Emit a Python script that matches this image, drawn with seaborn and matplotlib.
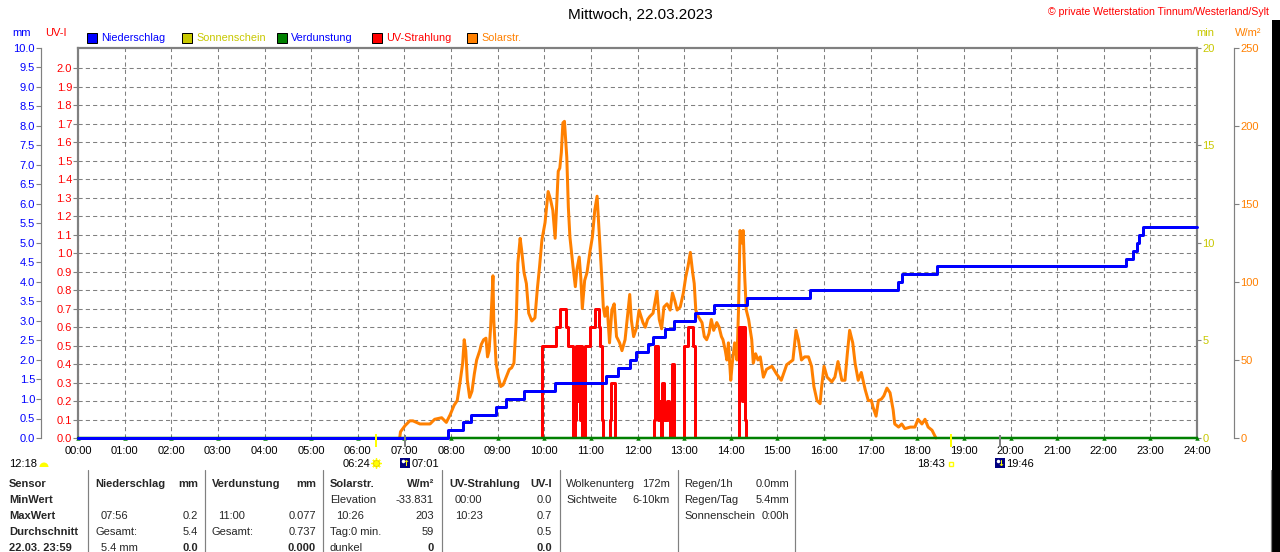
import matplotlib
matplotlib.use("Agg")
import matplotlib.pyplot as plt
import matplotlib.transforms as mtrans
from matplotlib.patches import Rectangle, Wedge
import seaborn as sns

# ---------------- data ----------------
TITLE = "Mittwoch, 22.03.2023"
COPYRIGHT = "© private Wetterstation Tinnum/Westerland/Sylt"

hour_ticks = [0, 1, 2, 3, 4, 5, 6, 7, 8, 9, 10, 11, 12, 13, 14, 15, 16, 17, 18, 19, 20, 21, 22, 23, 24]
hour_labels = ["00:00", "01:00", "02:00", "03:00", "04:00", "05:00", "06:00", "07:00", "08:00",
               "09:00", "10:00", "11:00", "12:00", "13:00", "14:00", "15:00", "16:00", "17:00",
               "18:00", "19:00", "20:00", "21:00", "22:00", "23:00", "24:00"]

# Niederschlag (cumulative, mm)
rain_times = ["00:00", "07:56", "08:15", "08:26", "08:58", "09:11", "09:34", "10:14", "11:19",
              "11:35", "11:50", "11:58", "12:14", "12:20", "12:35", "12:47", "13:14", "13:38",
              "14:21", "15:42", "17:35", "17:40", "18:25", "22:28", "22:37", "22:43", "22:46",
              "22:51", "24:00"]
rain_mm = [0.0, 0.2, 0.4, 0.6, 0.8, 1.0, 1.2, 1.4, 1.6, 1.8, 2.0, 2.2, 2.4, 2.6, 2.8, 3.0, 3.2,
           3.4, 3.6, 3.8, 4.0, 4.2, 4.4, 4.6, 4.8, 5.0, 5.2, 5.4, 5.4]

# UV-Strahlung (UV-I)
uv_times = ["00:00", "09:57", "10:15", "10:20", "10:28", "10:30", "10:37", "10:40", "10:41",
            "10:43", "10:44", "10:46", "10:47", "10:49", "10:52", "10:59", "11:05", "11:11",
            "11:12", "11:14", "11:16", "11:25", "11:26", "11:31", "12:21", "12:23", "12:26",
            "12:28", "12:30", "12:31", "12:34", "12:38", "12:40", "12:42", "12:44", "12:47",
            "13:00", "13:05", "13:11", "13:14", "14:10", "14:14", "14:16", "14:18", "14:20",
            "24:00"]
uv_index = [0.0, 0.5, 0.6, 0.7, 0.6, 0.5, 0.0, 0.1, 0.5, 0.2, 0.5, 0.1, 0.5, 0.0, 0.5, 0.6,
            0.7, 0.6, 0.5, 0.1, 0.0, 0.1, 0.3, 0.0, 0.1, 0.5, 0.1, 0.2, 0.0, 0.3, 0.1, 0.2,
            0.1, 0.0, 0.4, 0.0, 0.5, 0.6, 0.5, 0.0, 0.6, 0.2, 0.6, 0.1, 0.0, 0.0]

# Solarstrahlung (W/m2), drawn from first light to dusk
solar_times = ["06:54", "06:55", "07:01", "07:07", "07:11", "07:20", "07:33", "07:39",
               "07:48", "07:54", "07:59", "08:04", "08:08", "08:12", "08:15", "08:17", "08:19",
               "08:21", "08:24", "08:27", "08:30", "08:33", "08:37", "08:39", "08:42", "08:45",
               "08:47", "08:49", "08:51", "08:54", "08:55", "08:58", "09:01", "09:04", "09:07",
               "09:11", "09:15", "09:18", "09:21", "09:24", "09:26", "09:29", "09:31", "09:34",
               "09:37", "09:40", "09:44", "09:48", "09:51", "09:54", "09:57", "10:01", "10:05",
               "10:08", "10:11", "10:14", "10:16", "10:18", "10:20", "10:22", "10:24", "10:26",
               "10:29", "10:31", "10:33", "10:37", "10:40", "10:42", "10:45", "10:47", "10:49",
               "10:52", "10:55", "10:59", "11:02", "11:05", "11:08", "11:10", "11:12", "11:14",
               "11:16", "11:18", "11:21", "11:24", "11:27", "11:30", "11:33", "11:37", "11:40",
               "11:44", "11:48", "11:50", "11:52", "11:55", "11:59", "12:02",
               "12:07", "12:10", "12:13", "12:16", "12:20", "12:25", "12:28", "12:31", "12:34",
               "12:38", "12:42", "12:45", "12:48", "12:51", "12:55", "12:59", "13:02", "13:05",
               "13:08", "13:11", "13:13", "13:15", "13:18", "13:23", "13:26", "13:29", "13:32",
               "13:35", "13:38", "13:42", "13:45", "13:48", "13:50", "13:53", "13:55", "13:57",
               "14:00", "14:02", "14:05", "14:08", "14:10", "14:12", "14:14", "14:16", "14:18",
               "14:20",
               "14:23", "14:27", "14:29", "14:32", "14:35", "14:38", "14:42", "14:46", "14:53",
               "14:59", "15:05", "15:12", "15:20", "15:24", "15:27", "15:31", "15:35", "15:40",
               "15:44", "15:47", "15:51", "15:55", "15:57", "16:00", "16:04", "16:10", "16:14",
               "16:18", "16:23", "16:27", "16:30", "16:33", "16:37", "16:40", "16:44", "16:48",
               "16:53", "16:57", "17:01", "17:03", "17:07", "17:10", "17:14", "17:17", "17:21",
               "17:25", "17:29", "17:31", "17:36", "17:40", "17:44", "17:51", "17:57", "18:01",
               "18:06", "18:10", "18:14", "18:19", "18:22", "18:24"]
solar_wm2 = [0, 4, 8, 11, 11, 9, 9, 12,
             13, 10, 15, 21, 24, 37, 48, 63, 56,
             37, 26, 30, 41, 50, 56, 60, 63, 64,
             52, 56, 71, 104, 76, 48, 39, 33, 34,
             39, 44, 45, 48, 76, 112, 128, 120, 106,
             99, 80, 75, 77, 95, 110, 127, 138, 158,
             153, 146, 128, 150, 171, 173, 183, 202, 203,
             180, 148, 129, 110, 97, 108, 116, 103, 83,
             101, 106, 120, 129, 146, 155, 138, 120, 103,
             84, 78, 84, 61, 82, 86, 65, 61, 56,
             63, 82, 92, 76, 65, 71, 82,
             74, 71, 76, 78, 80, 94, 76, 70, 84,
             86, 82, 93, 88, 82, 84, 93, 103, 110,
             119, 106, 99, 82, 78, 74, 65, 63, 67,
             76, 69, 74, 71, 65, 63, 56, 50, 61,
             37, 48, 61, 50, 82, 133, 125, 133, 103,
             82,
             76, 63, 48, 54, 50, 52, 39, 44, 46,
             41, 37, 47, 50, 69, 63, 50, 52, 52,
             46, 33, 24, 22, 33, 46, 39, 36, 39,
             49, 37, 37, 54, 69, 61, 48, 37, 42,
             31, 24, 24, 20, 14, 24, 25, 27, 32,
             29, 18, 9, 7, 9, 6, 7, 7, 12,
             9, 12, 7, 5, 2, 0]

# Verdunstung (mm, hourly)
evap_times = hour_labels
evap_mm = [0.0, 0.0, 0.0, 0.0, 0.0, 0.0, 0.0, 0.0, 0.0, 0.0, 0.0, 0.0, 0.0,
           0.0, 0.0, 0.0, 0.0, 0.0, 0.0, 0.0, 0.0, 0.0, 0.0, 0.0, 0.0]

mm_ticks = [0.0, 0.5, 1.0, 1.5, 2.0, 2.5, 3.0, 3.5, 4.0, 4.5, 5.0, 5.5, 6.0, 6.5, 7.0, 7.5,
            8.0, 8.5, 9.0, 9.5, 10.0]
uv_ticks = [0.0, 0.1, 0.2, 0.3, 0.4, 0.5, 0.6, 0.7, 0.8, 0.9, 1.0, 1.1, 1.2, 1.3, 1.4, 1.5,
            1.6, 1.7, 1.8, 1.9, 2.0]
min_ticks = [0, 5, 10, 15, 20]
wm2_ticks = [0, 50, 100, 150, 200, 250]

legend_labels = ["Niederschlag", "Sonnenschein", "Verdunstung", "UV-Strahlung", "Solarstr."]

sun_events = ["06:24", "18:43"]
moon_events = ["07:01", "19:46"]
day_length = "12:18"

table_col0 = ["Sensor", "MinWert", "MaxWert", "Durchschnitt", "22.03. 23:59"]
table_rain = [("Niederschlag", "mm"), ("", ""), ("07:56", "0.2"), ("Gesamt:", "5.4"), ("5.4 mm", "0.0")]
table_evap = [("Verdunstung", "mm"), ("", ""), ("11:00", "0.077"), ("Gesamt:", "0.737"), ("", "0.000")]
table_solar = [("Solarstr.", "W/m²"), ("Elevation", "-33.831"), ("10:26", "203"), ("Tag:0 min.", "59"), ("dunkel", "0")]
table_uv = [("UV-Strahlung", "UV-I"), ("00:00", "0.0"), ("10:23", "0.7"), ("", "0.5"), ("", "0.0")]
table_cloud = [("Wolkenunterg", "172m"), ("Sichtweite", "6-10km")]
table_regen = [("Regen/1h", "0.0mm"), ("Regen/Tag", "5.4mm"), ("Sonnenschein", "0:00h")]

# ---------------- style ----------------
BLUE, RED, ORANGE = "#0000ff", "#ff0000", "#ff8000"
GREEN, YELLOW, GRAY = "#008000", "#c8c800", "#808080"
SUNY = "#ffff00"

sns.set_theme(style="white")
plt.rcParams['font.family'] = ['Liberation Sans', 'DejaVu Sans']
plt.rcParams['font.size'] = 8

W, H = 1280, 552
PX = 72 / 100.0  # points per pixel
L, R, T, B = 78, 1197, 48, 438


def to_h(ts):
    out = []
    for t in ts:
        h, m = t.split(":")
        out.append(int(h) + int(m) / 60.0)
    return out


fig = plt.figure(figsize=(W / 100, H / 100), dpi=100)
fig.patch.set_facecolor("white")

ax = fig.add_axes([L / W, 1 - B / H, (R - L) / W, (B - T) / H])
ax_w = ax.twinx()
ax_uv = ax.twinx()
ax_min = ax.twinx()
ax_mm = ax.twinx()

# series
sns.lineplot(x=to_h(solar_times), y=solar_wm2, ax=ax_w, color=ORANGE, linewidth=3 * PX,
             estimator=None, sort=False, legend=False, clip_on=False)
sns.lineplot(x=to_h(uv_times), y=uv_index, ax=ax_uv, color=RED, linewidth=3 * PX,
             drawstyle="steps-post", estimator=None, sort=False, legend=False, clip_on=True)
sns.lineplot(x=to_h(evap_times), y=evap_mm, ax=ax_mm, color=GREEN, linewidth=2.5 * PX,
             marker="^", markersize=3.2, markeredgewidth=0, estimator=None, sort=False,
             legend=False, clip_on=False)
sns.lineplot(x=to_h(rain_times), y=rain_mm, ax=ax_mm, color=BLUE, linewidth=3 * PX,
             drawstyle="steps-post", estimator=None, sort=False, legend=False, clip_on=False)

# main axis (UV scale + grid)
ax.set_xlim(0, 24)
ax.set_ylim(0, 2.11)
ax.set_xticks(hour_ticks)
ax.set_xticklabels(hour_labels)
ax.set_yticks(uv_ticks)
ax.set_yticklabels([f"{v:.1f}" for v in uv_ticks])
ax.grid(True, color=GRAY, linestyle=(0, (4, 3)), linewidth=0.75)
ax.tick_params(axis="x", bottom=True, length=0, pad=8 * PX, labelsize=8, labelcolor="black")
ax.tick_params(axis="y", left=True, direction="out", length=5 * PX, width=0.8, color=GRAY,
               pad=1 * PX, labelcolor=RED, labelsize=8)
for s in ["top", "left", "right"]:
    ax.spines[s].set_color(GRAY)
    ax.spines[s].set_linewidth(2.2 * PX)
ax.spines["bottom"].set_color(GRAY)
ax.spines["bottom"].set_linewidth(1 * PX)
ax.set_xlabel("")
ax.set_ylabel("")

for a in (ax_w, ax_uv, ax_min, ax_mm):
    for s in a.spines.values():
        s.set_visible(False)
    a.set_xlabel("")
    a.set_ylabel("")

# W/m2 axis
ax_w.set_ylim(0, 250)
ax_w.set_yticks(wm2_ticks)
ax_w.set_yticklabels([str(v) for v in wm2_ticks])
ax_w.spines["right"].set_visible(True)
ax_w.spines["right"].set_position(("outward", 37 * PX))
ax_w.spines["right"].set_color(GRAY)
ax_w.spines["right"].set_linewidth(1.2 * PX)
ax_w.tick_params(axis="y", right=True, left=False, direction="out", length=5 * PX, width=0.8,
                 color=GRAY, pad=1.5 * PX, labelcolor=ORANGE, labelsize=8)

# UV data axis (hidden)
ax_uv.set_ylim(0, 2.11)
ax_uv.set_yticks([])

# min axis
ax_min.set_ylim(0, 20)
ax_min.set_yticks(min_ticks)
ax_min.set_yticklabels([str(v) for v in min_ticks])
ax_min.tick_params(axis="y", right=True, left=False, direction="out", length=4 * PX, width=0.8,
                   color=GRAY, pad=1.5 * PX, labelcolor=YELLOW, labelsize=8)

# mm axis
ax_mm.set_ylim(0, 10)
ax_mm.yaxis.tick_left()
ax_mm.set_yticks(mm_ticks)
ax_mm.set_yticklabels([f"{v:.1f}" for v in mm_ticks])
ax_mm.spines["left"].set_visible(True)
ax_mm.spines["left"].set_position(("outward", 37 * PX))
ax_mm.spines["left"].set_color(GRAY)
ax_mm.spines["left"].set_linewidth(1.2 * PX)
ax_mm.tick_params(axis="y", left=True, right=False, direction="out", length=5 * PX, width=0.8,
                  color=GRAY, pad=1 * PX, labelcolor=BLUE, labelsize=8)
ax.set_xlim(0, 24)

# ---------------- overlay (pixel coordinates) ----------------
ov = fig.add_axes([0, 0, 1, 1])
ov.set_autoscale_on(False)
ov.set_xlim(0, W)
ov.set_ylim(H, 0)
ov.axis("off")

ov.text(640, 15, TITLE, ha="center", va="center", fontsize=11, color="black")
ov.text(1269, 12, COPYRIGHT, ha="right", va="center", fontsize=7.6, color=RED)

ov.text(22, 33, "mm", ha="center", va="center", color=BLUE, fontsize=8)
ov.text(56, 33, "UV-I", ha="center", va="center", color=RED, fontsize=8)
ov.text(1205, 33, "min", ha="center", va="center", color=YELLOW, fontsize=8)
ov.text(1248, 33, "W/m²", ha="center", va="center", color=ORANGE, fontsize=8)

legend_sq = [BLUE, YELLOW, GREEN, RED, ORANGE]
legend_tc = [BLUE, YELLOW, BLUE, RED, ORANGE]
for i, lab in enumerate(legend_labels):
    x0 = 87 + 95 * i
    ov.add_patch(Rectangle((x0, 33), 10, 10, facecolor=legend_sq[i], edgecolor="black",
                           linewidth=1 * PX))
    ov.text(x0 + 14, 38, lab, ha="left", va="center", color=legend_tc[i], fontsize=7.8)

# sun / moon events under the time axis
trans = mtrans.blended_transform_factory(ax.transData, ov.transData)
for k, t in enumerate(to_h(sun_events)):
    ov.plot([t, t], [434, 447], color=SUNY, linewidth=2 * PX, transform=trans, clip_on=False,
            solid_capstyle="butt")
    ttxt = mtrans.offset_copy(trans, fig=fig, x=-6 * PX, y=0, units="points")
    ov.text(t, 464, sun_events[k], ha="right", va="center", fontsize=8, color="black",
            transform=ttxt)
    if k == 0:
        ov.plot([t], [463], marker=(8, 2, 0), markersize=10 * PX, color=SUNY,
                markeredgewidth=1, transform=trans, clip_on=False)
        ov.plot([t], [463], marker="o", markersize=6 * PX, color=SUNY,
                markeredgecolor="#e0c000", markeredgewidth=0.5, transform=trans, clip_on=False)
    else:
        ov.plot([t], [464], marker="s", markersize=5 * PX, markerfacecolor="none",
                markeredgecolor=SUNY, markeredgewidth=1, transform=trans, clip_on=False)

for k, t in enumerate(to_h(moon_events)):
    ov.plot([t, t], [435, 447], color=GRAY, linewidth=2 * PX, transform=trans, clip_on=False,
            solid_capstyle="butt")
    ov.plot([t], [463], marker="s", markersize=10 * PX, color="#000080",
            markeredgewidth=0, transform=trans, clip_on=False)
    tdot = mtrans.offset_copy(trans, fig=fig, x=-2 * PX, y=2 * PX, units="points")
    ov.plot([t], [463], marker="o", markersize=3.5 * PX, color="white", markeredgewidth=0,
            transform=tdot, clip_on=False)
    tarr = mtrans.offset_copy(trans, fig=fig, x=1 * PX, y=0, units="points")
    ov.text(t, 464, "↑" if k == 0 else "↓", ha="center", va="center", fontsize=6,
            color=SUNY, fontweight="bold", family="DejaVu Sans", transform=tarr)
    ttxt = mtrans.offset_copy(trans, fig=fig, x=6 * PX, y=0, units="points")
    ov.text(t, 464, moon_events[k], ha="left", va="center", fontsize=8, color="black",
            transform=ttxt)

ov.text(9, 464, day_length, ha="left", va="center", fontsize=8, color="black")
ov.add_patch(Wedge((44, 467), 4.5, 180, 360, facecolor=SUNY, edgecolor="none"))

# ---------------- table ----------------
row_y = [484, 500, 516, 532, 548]
for r, txt in enumerate(table_col0):
    ov.text(9, row_y[r], txt, ha="left", va="center", fontsize=8, fontweight="bold")


def put_col(rows, xl, xr, header_bold=True, last_bold=True, indent=0):
    for r, (a, b) in enumerate(rows):
        bold_a = "bold" if (r == 0 and header_bold) else "normal"
        bold_b = "bold" if ((r == 0 and header_bold) or (r == len(rows) - 1 and last_bold)) else "normal"
        xa = xl if (r == 0 or a.startswith("Gesamt") or a in ("Elevation", "Tag:0 min.", "dunkel")) else xl + indent
        if a:
            ov.text(xa, row_y[r], a, ha="left", va="center", fontsize=8, fontweight=bold_a)
        if b:
            ov.text(xr, row_y[r], b, ha="right", va="center", fontsize=8, fontweight=bold_b)


put_col(table_rain, 95, 198, indent=6)
put_col(table_evap, 212, 316, indent=6)
put_col(table_solar, 330, 434, indent=6)
put_col(table_uv, 449, 552, indent=6)
put_col(table_cloud, 566, 670, header_bold=False, last_bold=False)
put_col(table_regen, 684, 789, header_bold=False, last_bold=False)

for xs in [88, 205, 323, 442, 560, 678, 795, 1271]:
    ov.plot([xs, xs], [470, 552], color=GRAY, linewidth=1.2 * PX, clip_on=False)

ov.add_patch(Rectangle((1272, 20), 8, 532, facecolor="black", edgecolor="none"))

fig.savefig("out.png", dpi=100)
